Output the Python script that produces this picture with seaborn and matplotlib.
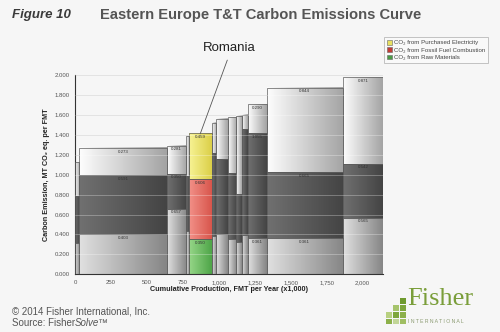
import numpy as np
import pandas as pd
import matplotlib
matplotlib.use("Agg")
import matplotlib.pyplot as plt
import seaborn as sns
from matplotlib.colors import LinearSegmentedColormap
from matplotlib.patches import Rectangle, Patch
from matplotlib.ticker import FuncFormatter, MultipleLocator

# ---------------- data ----------------
countries = ["A", "B", "C", "D", "Romania", "F", "G", "H", "I", "J", "K", "L", "M"]
widths = [30, 607, 134, 21, 158, 34, 81, 58, 40, 37, 132, 532, 278]
raw_materials = [0.317, 0.403, 0.657, 0.430, 0.350, 0.388, 0.405, 0.354, 0.327, 0.390, 0.361, 0.361, 0.565]
fossil_fuel = [0.473, 0.591, 0.350, 0.557, 0.606, 0.827, 0.750, 0.666, 0.476, 1.065, 1.055, 0.665, 0.542]
electricity = [0.334, 0.273, 0.281, 0.401, 0.459, 0.307, 0.404, 0.556, 0.786, 0.145, 0.290, 0.844, 0.871]
show_labels = [False, True, True, False, True, False, False, False, False, False, True, True, True]
highlight = "Romania"
legend_labels = ["CO\u2082 from Purchased Electricity", "CO\u2082 from Fossil Fuel Combustion",
                 "CO\u2082 from Raw Materials"]
x_ticks = [0, 250, 500, 750, 1000, 1250, 1500, 1750, 2000]

df = pd.DataFrame({"country": countries, "width": widths, "raw": raw_materials,
                   "fossil": fossil_fuel, "elec": electricity, "label": show_labels})
df["right"] = df["width"].cumsum()
df["left"] = df["right"] - df["width"]

# ---------------- style ----------------
sns.set_theme(style="white", rc={"axes.facecolor": "#f6f6f6", "figure.facecolor": "#f6f6f6"})
plt.rcParams["font.family"] = ["Liberation Sans", "DejaVu Sans"]

BG = "#f6f6f6"
grey_cols = {"raw": ("#e0e0e0", "#868686"), "fossil": ("#707070", "#444444"),
             "elec": ("#fdfdfd", "#a4a4a4")}
hl_cols = {"raw": ("#96d688", "#4ea548"), "fossil": ("#f29088", "#d8564c"),
           "elec": ("#f7f394", "#dbcf48")}

fig = plt.figure(figsize=(5.0, 3.32), dpi=100)
fig.patch.set_facecolor(BG)
ax = fig.add_axes([0.15, 0.1738, 0.616, 0.6003])
ax.set_facecolor(BG)

grad = np.linspace(0, 1, 64).reshape(1, -1)
for _, r in df.iterrows():
    bottom = 0.0
    cols = hl_cols if r["country"] == highlight else grey_cols
    for key in ["raw", "fossil", "elec"]:
        h = r[key]
        c0, c1 = cols[key]
        cmap = LinearSegmentedColormap.from_list("g", [c0, c1])
        ax.imshow(grad, extent=(r["left"], r["right"], bottom, bottom + h), aspect="auto",
                  cmap=cmap, interpolation="bilinear", zorder=2)
        ax.bar(r["left"], h, width=r["width"], bottom=bottom, align="edge",
               color="none", edgecolor="#5c5c5c", linewidth=0.5, zorder=3)
        if r["label"]:
            ax.text((r["left"] + r["right"]) / 2, bottom + h - 0.015, f"{h:.3f}",
                    ha="center", va="top", fontsize=3.2, color="#333333", zorder=5)
        bottom += h

# grid lines
for y in np.arange(0.2, 2.01, 0.2):
    ax.axhline(y, color="#d4d4d4", lw=0.6, zorder=1)
    ax.axhline(y, color="white", lw=0.5, alpha=0.4, zorder=4)

ax.set_xlim(0, df["right"].iloc[-1])
ax.set_ylim(0, 2.0)
ax.xaxis.set_major_locator(plt.FixedLocator(x_ticks))
ax.xaxis.set_major_formatter(FuncFormatter(lambda v, p: f"{int(v):,}"))
ax.yaxis.set_major_locator(MultipleLocator(0.2))
ax.yaxis.set_major_formatter(FuncFormatter(lambda v, p: f"{v:.3f}"))
ax.tick_params(axis="both", labelsize=4.3, colors="#333333", length=2, width=0.6, pad=2)
for lbl in ax.get_xticklabels() + ax.get_yticklabels():
    lbl.set_color("#555555")

sns.despine(ax=ax, top=True, right=True)
for s in ["left", "bottom"]:
    ax.spines[s].set_color("#333333")
    ax.spines[s].set_linewidth(0.8)

ax.set_xlabel("Cumulative Production, FMT per Year (x1,000)", fontsize=5.2,
              fontweight="bold", color="#222222", labelpad=1)
ax.set_ylabel("Carbon Emission, MT CO\u2082 eq. per FMT", fontsize=5.2,
              fontweight="bold", color="#222222", labelpad=3)

# legend
handles = [Patch(facecolor="#e8e060", edgecolor="#666666", lw=0.4),
           Patch(facecolor="#c23a34", edgecolor="#666666", lw=0.4),
           Patch(facecolor="#4a9a44", edgecolor="#666666", lw=0.4)]
leg = fig.legend(handles, legend_labels, loc="upper left", bbox_to_anchor=(0.762, 0.897),
                 fontsize=4.4, frameon=True, handlelength=0.8, handleheight=0.8,
                 handletextpad=0.3, labelspacing=0.3, borderpad=0.45, fancybox=False)
leg.get_frame().set_edgecolor("#aaaaaa")
leg.get_frame().set_linewidth(0.6)
leg.get_frame().set_facecolor("#fafafa")
for t in leg.get_texts():
    t.set_color("#444444")

# annotation
hl = df[df["country"] == highlight].iloc[0]
fig.text(0.458, 0.856, highlight, fontsize=9.5, color="#222222", ha="center", va="center")
ax.annotate("", xy=(hl["left"] + 0.5 * hl["width"], hl["raw"] + hl["fossil"] + hl["elec"] - 0.005),
            xycoords="data", xytext=(0.4546, 0.819), textcoords="figure fraction",
            arrowprops=dict(arrowstyle="-", color="#555555", lw=0.6, shrinkA=0, shrinkB=0),
            zorder=6)

# titles
fig.text(0.025, 0.955, "Figure 10", fontsize=9.5, fontweight="bold", fontstyle="italic",
         color="#3a3a3a", va="center", ha="left")
fig.text(0.2, 0.955, "Eastern Europe T&T Carbon Emissions Curve", fontsize=10.6,
         fontweight="bold", color="#555555", va="center", ha="left")

# footer
fig.text(0.023, 0.063, "\u00a9 2014 Fisher International, Inc.", fontsize=7, color="#555555",
         va="center", ha="left")
src = fig.text(0.023, 0.027, "Source: Fisher", fontsize=7, color="#555555", va="center", ha="left")
renderer = fig.canvas.get_renderer()
bb = src.get_window_extent(renderer=renderer)
fig.text(bb.x1 / fig.bbox.width + 0.001, 0.027, "Solve\u2122", fontsize=7, color="#555555",
         va="center", ha="left", fontstyle="italic")

# logo
logo_sq = [  # (x px, y px, w, h, colour)
    (400, 298, 6, 6, "#6f9a2e"), (400, 305, 6, 6, "#7ea63c"), (393, 305, 6, 6, "#a6c46c"),
    (400, 312, 6, 6, "#8cb04a"), (393, 312, 6, 6, "#7ea63c"), (386, 312, 6, 6, "#b8d080"),
    (400, 319, 6, 5, "#a0be62"), (393, 319, 6, 5, "#c2d698"), (386, 319, 6, 5, "#8cb04a"),
]
for (px, py, w, h, c) in logo_sq:
    fig.patches.append(Rectangle((px / 500, 1 - (py + h) / 332), w / 500, h / 332,
                                 transform=fig.transFigure, facecolor=c, edgecolor="none"))
fig.text(0.814, 0.08, "Fisher", fontsize=19, color="#7a9e3a", va="baseline", ha="left",
         family=["Liberation Serif", "DejaVu Serif"])
fig.text(0.817, 0.0305, "I N T E R N A T I O N A L", fontsize=3.7, color="#8a9a70",
         va="center", ha="left")

fig.savefig("out.png", dpi=100, facecolor=BG)
